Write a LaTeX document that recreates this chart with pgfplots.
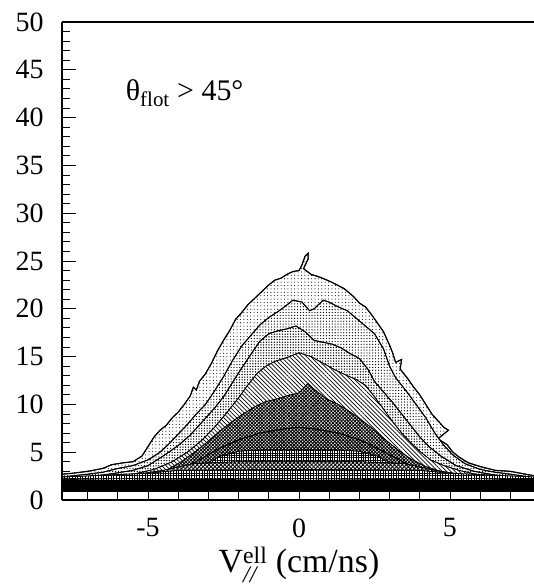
\documentclass[border=0pt]{standalone}
\usepackage{fontspec}
\setmainfont{Liberation Serif}
\usepackage{amsmath}
\usepackage{pgfplots}
\pgfplotsset{compat=1.18}
\usetikzlibrary{patterns.meta}

\begin{document}
\begin{tikzpicture}
\begin{axis}[
    at={(0,0)}, anchor=south west,
    scale only axis,
    width=474bp, height=478bp,
    xmin=-7.85, xmax=7.85,
    ymin=0, ymax=50,
    axis x line*=box, axis y line*=left,
    xtick pos=left,
    axis on top=true,
    axis line style={line width=1.1pt},
    tick align=inside,
    xtick={-5,0,5}, xticklabels={-5,0,5},
    minor xtick={-7,-6,-4,-3,-2,-1,1,2,3,4,6,7},
    ytick={0,5,...,50},
    minor ytick={1,2,3,4,6,7,8,9,11,12,13,14,16,17,18,19,21,22,23,24,26,27,28,29,31,32,33,34,36,37,38,39,41,42,43,44,46,47,48,49},
    major tick length=14bp, minor tick length=8bp,
    every tick/.style={black, line width=0.9pt},
    /pgf/number format/assume math mode=true,
    ticklabel style={font=\fontsize{28}{32}\selectfont},
    yticklabel style={xshift=-15bp},
    xticklabel style={yshift=-15bp},
    xlabel={\fontsize{34}{40}\selectfont V$^{\text{ell}}_{\text{\itshape //}}$ (cm/ns)},
    xlabel style={font=\fontsize{31}{36}\selectfont, at={(axis description cs:0.5,0)}, anchor=base, yshift=-72bp},
]
% outermost contour
\addplot[draw=black, line width=1pt, fill=white,
  postaction={pattern={Dots[distance=3.4pt, radius=0.55pt]}}] table {
-7.85 2.7
-7.5 2.8
-7.0 3.0
-6.5 3.3
-6.2 3.7
-5.8 3.9
-5.5 4.0
-5.2 4.6
-5.0 5.6
-4.8 6.6
-4.6 7.3
-4.4 7.8
-4.2 8.6
-4.0 9.2
-3.8 10.0
-3.6 10.9
-3.5 11.8
-3.4 11.5
-3.3 12.4
-3.1 13.2
-2.9 14.3
-2.7 15.6
-2.5 16.7
-2.3 17.7
-2.1 18.9
-1.9 19.6
-1.7 20.4
-1.5 21.0
-1.3 21.6
-1.0 22.5
-0.8 23.0
-0.6 23.2
-0.4 23.6
-0.2 23.9
0.0 24.0
0.1 24.6
0.2 25.5
0.3 25.8
0.3 25.2
0.15 24.2
0.4 23.6
0.7 23.3
1.0 22.9
1.2 22.6
1.5 22.1
1.8 21.3
2.0 20.6
2.2 20.2
2.4 19.4
2.6 18.5
2.8 17.6
3.0 16.2
3.1 15.4
3.2 14.4
3.4 14.7
3.35 13.7
3.6 12.7
3.8 11.8
4.0 11.0
4.2 10.0
4.4 9.0
4.6 8.3
4.8 7.6
4.95 7.3
4.6 6.4
4.9 5.8
5.1 5.0
5.3 4.5
5.6 3.9
6.0 3.5
6.5 3.1
7.0 3.0
7.5 2.7
7.85 2.5
} \closedcycle;
% second contour
\addplot[draw=black, line width=0.9pt, fill=white,
  postaction={pattern={Dots[distance=2.9pt, radius=0.65pt]}}] table {
-7.85 2.4
-7.0 2.7
-6.5 2.9
-6.0 3.3
-5.5 3.6
-5.0 4.2
-4.6 5.0
-4.3 5.9
-4.0 6.9
-3.7 7.9
-3.4 9.0
-3.1 10.0
-2.8 11.4
-2.5 12.9
-2.2 14.6
-1.9 16.1
-1.6 17.2
-1.3 18.3
-1.0 19.1
-0.7 19.7
-0.4 20.4
-0.2 20.9
0.1 20.7
0.35 19.8
0.5 20.0
0.8 20.9
1.0 20.7
1.3 20.2
1.6 19.8
1.9 19.0
2.2 18.2
2.5 17.4
2.8 15.8
3.0 14.0
3.2 12.8
3.4 12.0
3.6 11.2
3.9 9.9
4.2 8.6
4.5 7.0
4.8 5.7
5.1 4.7
5.5 3.8
6.0 3.2
6.5 2.9
7.0 2.7
7.85 2.3
} \closedcycle;
% third contour
\addplot[draw=black, line width=0.9pt, fill=white,
  postaction={pattern={Dots[distance=2.7pt, radius=0.75pt]}}] table {
-7.85 2.2
-6.5 2.6
-5.5 3.1
-5.0 3.6
-4.5 4.6
-4.0 5.7
-3.6 6.8
-3.2 8.2
-2.8 9.6
-2.5 10.8
-2.2 12.3
-1.9 13.8
-1.6 15.2
-1.3 16.6
-1.0 17.4
-0.7 17.7
-0.4 17.9
-0.1 18.2
0.2 17.6
0.5 16.7
0.8 16.5
1.1 16.3
1.4 15.9
1.7 15.3
2.0 14.8
2.3 13.6
2.5 12.4
2.8 11.3
3.1 10.2
3.4 9.0
3.7 7.8
4.0 6.6
4.3 5.6
4.7 4.6
5.2 3.6
5.8 3.0
6.5 2.6
7.85 2.1
} \closedcycle;
% fourth contour (hatched)
\addplot[draw=black, line width=0.7pt, fill=white,
  postaction={pattern={Lines[distance=3pt, angle=-45, line width=0.7pt]}}] table {
-7.85 2.0
-6.5 2.3
-5.5 2.7
-4.8 3.2
-4.2 4.0
-3.7 5.0
-3.2 6.3
-2.8 7.6
-2.4 9.1
-2.0 10.7
-1.7 12.0
-1.4 13.2
-1.1 14.0
-0.8 14.5
-0.4 14.9
0.0 15.4
0.4 15.0
0.8 14.3
1.2 13.6
1.6 13.0
1.9 12.6
2.2 12.0
2.5 10.8
2.8 9.5
3.1 8.2
3.4 7.0
3.7 6.0
4.0 5.1
4.35 4.2
4.8 3.6
5.3 3.1
6.0 2.6
7.85 2.0
} \closedcycle;
% fifth contour (dense)
\addplot[draw=black, line width=0.6pt, fill=white,
  postaction={pattern={Hatch[distance=2.4pt, angle=45, line width=0.9pt]}}] table {
-7.85 1.9
-6.0 2.2
-5.0 2.6
-4.4 3.1
-3.9 4.0
-3.5 4.9
-3.1 5.9
-2.7 7.0
-2.3 8.0
-1.9 8.9
-1.5 9.7
-1.1 10.3
-0.7 10.6
-0.4 10.9
0.0 11.2
0.3 12.2
0.5 11.6
0.9 10.6
1.3 10.0
1.7 9.2
2.1 8.3
2.5 7.3
2.9 6.2
3.3 5.2
3.7 4.3
4.2 3.5
4.8 2.9
5.5 2.5
7.85 2.0
} \closedcycle;
% sixth contour
\addplot[draw=black, line width=0.8pt, fill=white,
  postaction={pattern={Hatch[distance=2.4pt, angle=45, line width=1pt]}}] table {
-7.85 1.9
-5.0 2.2
-4.0 3.0
-3.3 4.2
-2.7 5.3
-2.0 6.3
-1.3 7.0
-0.6 7.4
0.0 7.6
0.6 7.4
1.3 7.0
2.0 6.3
2.6 5.4
3.2 4.4
3.8 3.4
4.5 2.6
5.5 2.2
7.85 1.9
} \closedcycle;
% seventh contour
\addplot[draw=black, line width=0.6pt, fill=white,
  postaction={pattern={Hatch[distance=2.4pt, angle=0, line width=0.9pt]}}] table {
-7.85 1.9
-5.0 2.1
-4.0 2.6
-3.2 3.6
-2.6 4.6
-2.0 5.1
-1.0 5.3
0.0 5.3
1.0 5.3
2.0 5.1
2.6 4.6
3.2 3.6
4.0 2.6
5.0 2.1
7.85 1.9
} \closedcycle;
% eighth contour
\addplot[draw=black, line width=0.6pt, fill=white,
  postaction={pattern={Hatch[distance=2.8pt, angle=45, line width=0.9pt]}}] table {
-7.85 2.1
-6.0 2.4
-4.5 3.1
-3.5 3.8
-2.0 4.0
0.0 4.0
2.0 4.0
3.5 3.8
4.5 3.1
6.0 2.4
7.85 2.1
} \closedcycle;
% ninth contour
\addplot[draw=black, line width=0.6pt, fill=white,
  postaction={pattern={Hatch[distance=2.6pt, angle=0, line width=1pt]}}] table {
-7.85 2.4
-5.0 2.8
-4.0 3.1
0.0 3.2
4.0 3.1
5.0 2.8
7.85 2.4
} \closedcycle;
% black band
\addplot[fill=black, draw=none] table {
-7.85 2.2
-6.0 2.1
-3.0 2.2
0.0 2.1
3.0 2.2
6.0 2.1
7.85 2.3
} \closedcycle;
\addplot[fill=white, draw=none] table {
-7.85 0.8
7.85 0.8
} \closedcycle;

\node[font=\fontsize{30}{34}\selectfont, anchor=base west] at (axis cs:-5.85,41.8) {θ\textsubscript{flot} > 45°};
\end{axis}
\pgfresetboundingbox
\path (-62bp,-87bp) rectangle (472bp,500bp);
\end{tikzpicture}
\end{document}
